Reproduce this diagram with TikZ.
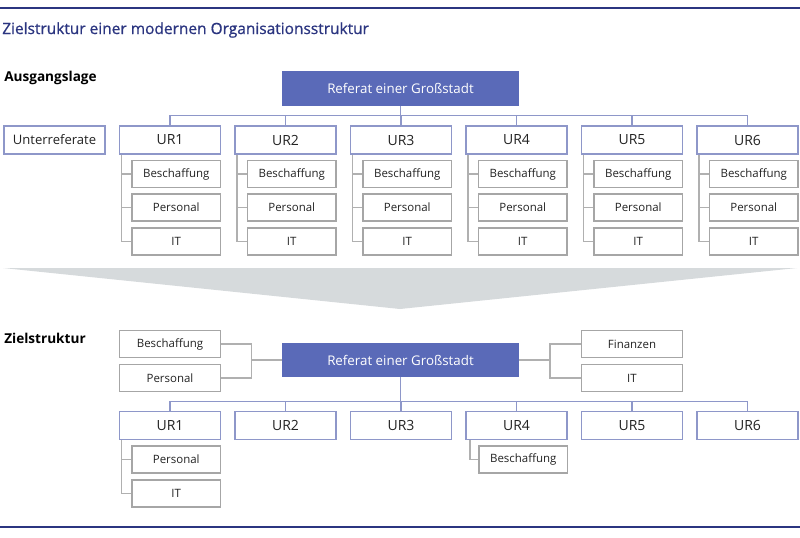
\documentclass[tikz,border=0pt]{standalone}
\usepackage{fontspec}
\setmainfont{Open Sans}
\newfontfamily\titlefont[FakeBold=0.8]{Open Sans}
\definecolor{titleblue}{RGB}{43,53,128}
\definecolor{refblue}{RGB}{90,106,184}
\definecolor{urline}{RGB}{142,151,201}
\definecolor{subline}{RGB}{166,166,166}
\definecolor{treegray}{RGB}{176,176,176}
\definecolor{arrowgray}{RGB}{214,218,220}
\definecolor{boxtext}{RGB}{35,35,35}
\begin{document}
\begin{tikzpicture}[x=0.75pt,y=-0.75pt,
    ur/.style={draw=urline,line width=0.8pt,fill=white,text=boxtext,minimum width=101*0.75pt,minimum height=28*0.75pt,inner sep=0pt,font=\fontsize{10.5}{12}\selectfont},
    sub/.style={draw=subline,line width=0.8pt,fill=white,text=boxtext,minimum width=88.5*0.75pt,minimum height=27*0.75pt,inner sep=0pt,font=\fontsize{8.6}{10}\selectfont},
    side/.style={sub,minimum width=101*0.75pt,minimum height=26.5*0.75pt},
    referat/.style={fill=refblue,text=white,minimum width=237*0.75pt,minimum height=35*0.75pt,inner sep=0pt,font=\fontsize{10}{12}\selectfont},
    bus/.style={draw=urline,line width=0.8pt},
    tree/.style={draw=treegray,line width=0.8pt},
    heading/.style={anchor=west,inner sep=0pt,font=\fontsize{10.2}{12}\selectfont\bfseries}]
    \useasboundingbox (0,0) rectangle (800,537);
    \draw[titleblue,line width=1.2pt] (0,8)--(800,8);
    \draw[titleblue,line width=1.2pt] (0,527)--(800,527);
    \node[anchor=west,inner sep=0pt,text=titleblue,font=\titlefont\fontsize{11.6}{14}\selectfont] (title) at (2,30) {Zielstruktur einer modernen Organisationsstruktur};
    % Ausgangslage
    \node[heading] (ausgang) at (4,78) {Ausgangslage};
    \node[referat] (refa) at (400.5,88.5) {Referat einer Großstadt};
    \node[ur,font=\fontsize{9.8}{12}\selectfont] (unter) at (54.5,140) {Unterreferate};
    \foreach \i in {1,...,6}{
        \node[ur] (ura\i) at ({170+(\i-1)*115.5},140) {UR\i};
        \node[sub] (besch\i) at ({176.25+(\i-1)*115.5},174) {Beschaffung};
        \node[sub] (pers\i) at ({176.25+(\i-1)*115.5},207.5) {Personal};
        \node[sub] (it\i) at ({176.25+(\i-1)*115.5},241.5) {IT};
        \coordinate (ta\i) at ([xshift=2.5*0.75pt]ura\i.south west);
        \draw[tree] (ta\i) |- (it\i.west);
        \draw[tree] (besch\i.west) -- (besch\i.west -| ta\i);
        \draw[tree] (pers\i.west) -- (pers\i.west -| ta\i);
    }
    \draw[bus] (ura1.north) -- ++(0,-10) -| (ura6.north);
    \foreach \i in {2,...,5} \draw[bus] (ura\i.north) -- ++(0,-10);
    \draw[bus] (refa.south) -- ++(0,10);
    % Pfeil
    \fill[arrowgray] (3,268) -- (797,268) -- (400,309) -- cycle;
    % Zielstruktur
    \node[heading] (ziel) at (4,338) {Zielstruktur};
    \node[referat,minimum height=34*0.75pt] (refz) at (400.5,360) {Referat einer Großstadt};
    \node[side] (zbesch) at (170,344) {Beschaffung};
    \node[side] (zpers) at (170,378) {Personal};
    \node[side] (zfin) at (632,344) {Finanzen};
    \node[side] (zit) at (632,378) {IT};
    \coordinate (jl) at (251.5,360);
    \coordinate (jr) at (550,360);
    \draw[tree] (zbesch.east) -| (jl) |- (zpers.east);
    \draw[tree] (jl) -- (refz.west);
    \draw[tree] (zfin.west) -| (jr) |- (zit.west);
    \draw[tree] (jr) -- (refz.east);
    \foreach \i in {1,...,6}
        \node[ur,minimum height=27.5*0.75pt] (urz\i) at ({170+(\i-1)*115.5},425.5) {UR\i};
    \draw[bus] (urz1.north) -- ++(0,-10) -| (urz6.north);
    \foreach \i in {2,...,5} \draw[bus] (urz\i.north) -- ++(0,-10);
    \draw[bus] (refz.south) -- (refz.south |- 0,402);
    \node[sub] (zpers1) at (176.25,459.5) {Personal};
    \node[sub] (zit1) at (176.25,493.5) {IT};
    \coordinate (tz1) at ([xshift=2.5*0.75pt]urz1.south west);
    \draw[tree] (tz1) |- (zit1.west);
    \draw[tree] (zpers1.west) -- (zpers1.west -| tz1);
    \node[sub] (zbesch4) at (523.25,459.5) {Beschaffung};
    \draw[tree] ([xshift=4.5*0.75pt]urz4.south west) |- (zbesch4.west);
\end{tikzpicture}
\end{document}
